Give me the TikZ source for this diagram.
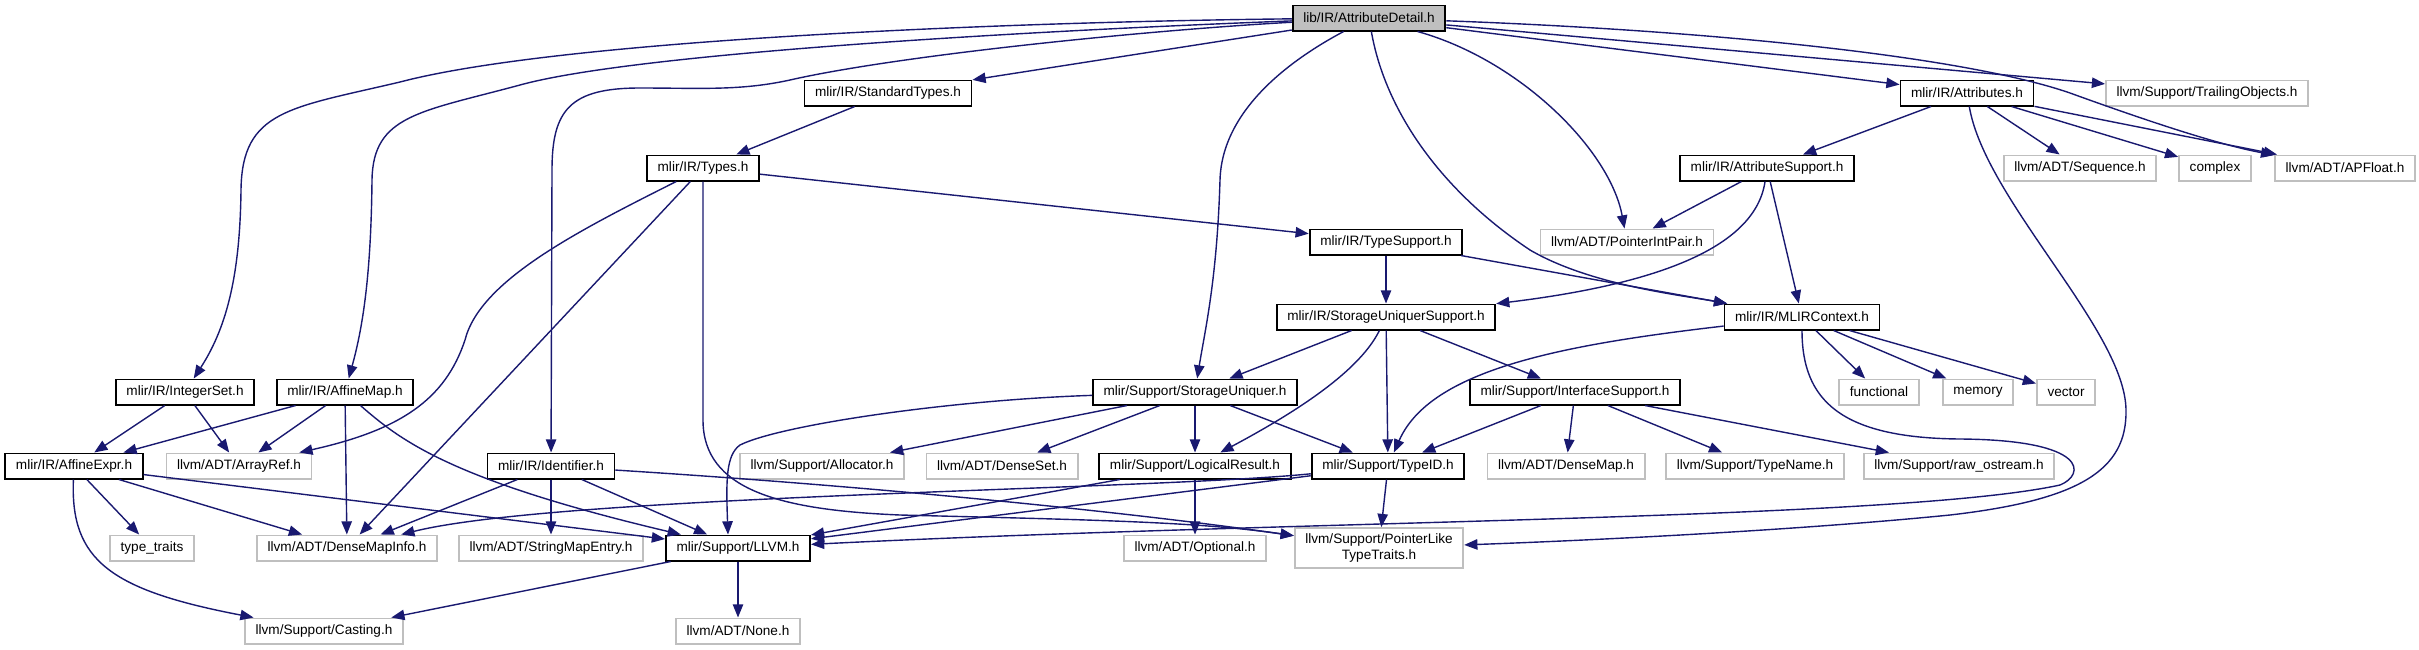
\documentclass[tikz,border=0pt]{standalone}
\usepackage{fontspec}
\setmainfont{Liberation Sans}
\usetikzlibrary{arrows.meta}
\definecolor{edgeblue}{HTML}{191970}
\definecolor{extgray}{HTML}{BFBFBF}

\begin{document}
\begin{tikzpicture}[
    x=0.5pt, y=-0.5pt,
    font=\fontsize{6.8}{8.2}\selectfont,
    box/.style={draw=black, line width=0.9pt, inner xsep=5.3pt, inner ysep=1pt, minimum height=12.6pt},
    sysbox/.style={box, draw=extgray},
    rootbox/.style={box, fill=extgray},
    arr/.style={edgeblue, line width=0.7pt, -{Triangle[length=6.6pt, width=5.2pt]}}
  ]
    \useasboundingbox (0,0) rectangle (2419,649);

    \node[rootbox] (ad) at (1369,18) {lib/IR/AttributeDetail.h};
    \node[box] (std) at (888,93) {mlir/IR/StandardTypes.h};
    \node[box] (attrs) at (1967,93) {mlir/IR/Attributes.h};
    \node[sysbox] (trail) at (2207,93) {llvm/Support/TrailingObjects.h};
    \node[box] (types) at (703,168) {mlir/IR/Types.h};
    \node[box] (attrsup) at (1767,168) {mlir/IR/AttributeSupport.h};
    \node[sysbox] (seq) at (2080,168) {llvm/ADT/Sequence.h};
    \node[sysbox] (cplx) at (2215,168) {complex};
    \node[sysbox] (apf) at (2345,168) {llvm/ADT/APFloat.h};
    \node[box] (tsup) at (1386,242) {mlir/IR/TypeSupport.h};
    \node[sysbox] (pip) at (1627,242) {llvm/ADT/PointerIntPair.h};
    \node[box] (sus) at (1386,317) {mlir/IR/StorageUniquerSupport.h};
    \node[box] (ctx) at (1802,317) {mlir/IR/MLIRContext.h};
    \node[box] (iset) at (185,392) {mlir/IR/IntegerSet.h};
    \node[box] (amap) at (345,392) {mlir/IR/AffineMap.h};
    \node[box] (su) at (1195,392) {mlir/Support/StorageUniquer.h};
    \node[box] (isup) at (1575,392) {mlir/Support/InterfaceSupport.h};
    \node[sysbox] (func) at (1879,392) {functional};
    \node[sysbox] (mem) at (1978,392) {memory};
    \node[sysbox] (vec) at (2066,392) {vector};
    \node[box] (aexpr) at (74,466) {mlir/IR/AffineExpr.h};
    \node[sysbox] (aref) at (239,466) {llvm/ADT/ArrayRef.h};
    \node[box] (ident) at (551,466) {mlir/IR/Identifier.h};
    \node[sysbox] (alloc) at (822,466) {llvm/Support/Allocator.h};
    \node[sysbox] (dset) at (1002,466) {llvm/ADT/DenseSet.h};
    \node[box] (lres) at (1195,466) {mlir/Support/LogicalResult.h};
    \node[box] (tid) at (1388,466) {mlir/Support/TypeID.h};
    \node[sysbox] (dmap) at (1566,466) {llvm/ADT/DenseMap.h};
    \node[sysbox] (tname) at (1755,466) {llvm/Support/TypeName.h};
    \node[sysbox] (raw) at (1959,466) {llvm/Support/raw\_ostream.h};
    \node[sysbox] (ttr) at (152,548) {type\_traits};
    \node[sysbox] (dmi) at (347,548) {llvm/ADT/DenseMapInfo.h};
    \node[sysbox] (sme) at (551,548) {llvm/ADT/StringMapEntry.h};
    \node[box] (llvm) at (738,548) {mlir/Support/LLVM.h};
    \node[sysbox] (opt) at (1195,548) {llvm/ADT/Optional.h};
    \node[sysbox, align=center, minimum height=20pt] (plt) at (1379,548) {llvm/Support/PointerLike\\TypeTraits.h};
    \node[sysbox] (cast) at (324,631) {llvm/Support/Casting.h};
    \node[sysbox] (none) at (738,631) {llvm/ADT/None.h};

    \draw[arr] (ad) .. controls (1000,22) and (560,40) .. (400,82) .. controls (290,108) and (242,110) .. (241,190) .. controls (240,280) and (225,330) .. (iset);
    \draw[arr] (ad) .. controls (1050,30) and (640,52) .. (520,85) .. controls (420,112) and (373,115) .. (372,180) .. controls (371,280) and (362,330) .. (amap);
    \draw[arr] (ad) .. controls (1150,30) and (900,55) .. (790,80) .. controls (740,91) and (700,88) .. (640,88) .. controls (570,88) and (552,110) .. (552,170) -- (ident);
    \draw[arr] (ad) -- (std);
    \draw[arr] (ad) .. controls (1290,60) and (1222,110) .. (1220,180) .. controls (1217,280) and (1205,330) .. (su);
    \draw[arr] (ad) .. controls (1385,110) and (1440,190) .. (1530,250) .. controls (1590,285) and (1680,295) .. (ctx);
    \draw[arr] (ad) .. controls (1520,60) and (1610,150) .. (pip);
    \draw[arr] (ad) -- (attrs);
    \draw[arr] (ad) -- (trail);
    \draw[arr] (ad) .. controls (1700,30) and (1960,55) .. (2070,93) .. controls (2150,122) and (2220,145) .. (apf);

    \draw[arr] (std) -- (types);
    \draw[arr] (types) -- (tsup);
    \draw[arr] (types) .. controls (580,230) and (480,280) .. (465,340) .. controls (445,400) and (400,430) .. (aref);
    \draw[arr] (types) -- (dmi);
    \draw[arr] (types) -- (703,420) .. controls (703,490) and (780,510) .. (900,515) .. controls (1100,520) and (1200,522) .. (plt);

    \draw[arr] (attrs) -- (attrsup);
    \draw[arr] (attrs) -- (seq);
    \draw[arr] (attrs) -- (cplx);
    \draw[arr] (attrs) -- (apf);
    \draw[arr] (attrs) .. controls (1985,200) and (2125,330) .. (2126,410) .. controls (2127,470) and (2080,500) .. (1950,515) .. controls (1800,530) and (1600,540) .. (plt);

    \draw[arr] (attrsup) -- (pip);
    \draw[arr] (attrsup) -- (ctx);
    \draw[arr] (attrsup) .. controls (1755,250) and (1650,285) .. (sus);
    \draw[arr] (tsup) -- (sus);
    \draw[arr] (tsup) -- (ctx);

    \draw[arr] (sus) -- (su);
    \draw[arr] (sus) .. controls (1360,370) and (1300,410) .. (lres);
    \draw[arr] (sus) -- (tid);
    \draw[arr] (sus) -- (isup);

    \draw[arr] (ctx) .. controls (1560,345) and (1430,370) .. (tid);
    \draw[arr] (ctx) -- (func);
    \draw[arr] (ctx) -- (mem);
    \draw[arr] (ctx) -- (vec);
    \draw[arr] (ctx) .. controls (1802,400) and (1840,438) .. (1960,439) .. controls (2090,440) and (2085,475) .. (2060,485) .. controls (1900,520) and (1300,520) .. (llvm);

    \draw[arr] (iset) -- (aexpr);
    \draw[arr] (iset) -- (aref);
    \draw[arr] (amap) -- (aexpr);
    \draw[arr] (amap) -- (aref);
    \draw[arr] (amap) -- (dmi);
    \draw[arr] (amap) .. controls (400,440) and (450,480) .. (llvm);

    \draw[arr] (su) -- (alloc);
    \draw[arr] (su) -- (dset);
    \draw[arr] (su) -- (lres);
    \draw[arr] (su) -- (tid);
    \draw[arr] (su) .. controls (950,400) and (780,425) .. (740,445) .. controls (726,455) and (726,480) .. ([xshift=-5pt]llvm.north);

    \draw[arr] (isup) -- (tid);
    \draw[arr] (isup) -- (dmap);
    \draw[arr] (isup) -- (tname);
    \draw[arr] (isup) -- (raw);

    \draw[arr] (aexpr) -- (ttr);
    \draw[arr] (aexpr) -- (dmi);
    \draw[arr] (aexpr) -- (llvm);
    \draw[arr] (aexpr) .. controls (70,560) and (110,590) .. (cast);

    \draw[arr] (ident) -- (dmi);
    \draw[arr] (ident) -- (sme);
    \draw[arr] (ident) -- (llvm);
    \draw[arr] (ident) .. controls (900,488) and (1150,515) .. (plt);

    \draw[arr] (lres) -- (opt);
    \draw[arr] (lres) -- (llvm);
    \draw[arr] (tid) -- (plt);
    \draw[arr] (tid) -- (llvm);
    \draw[arr] (tid) .. controls (1150,490) and (560,495) .. (dmi);

    \draw[arr] (llvm) -- (cast);
    \draw[arr] (llvm) -- (none);
\end{tikzpicture}
\end{document}
